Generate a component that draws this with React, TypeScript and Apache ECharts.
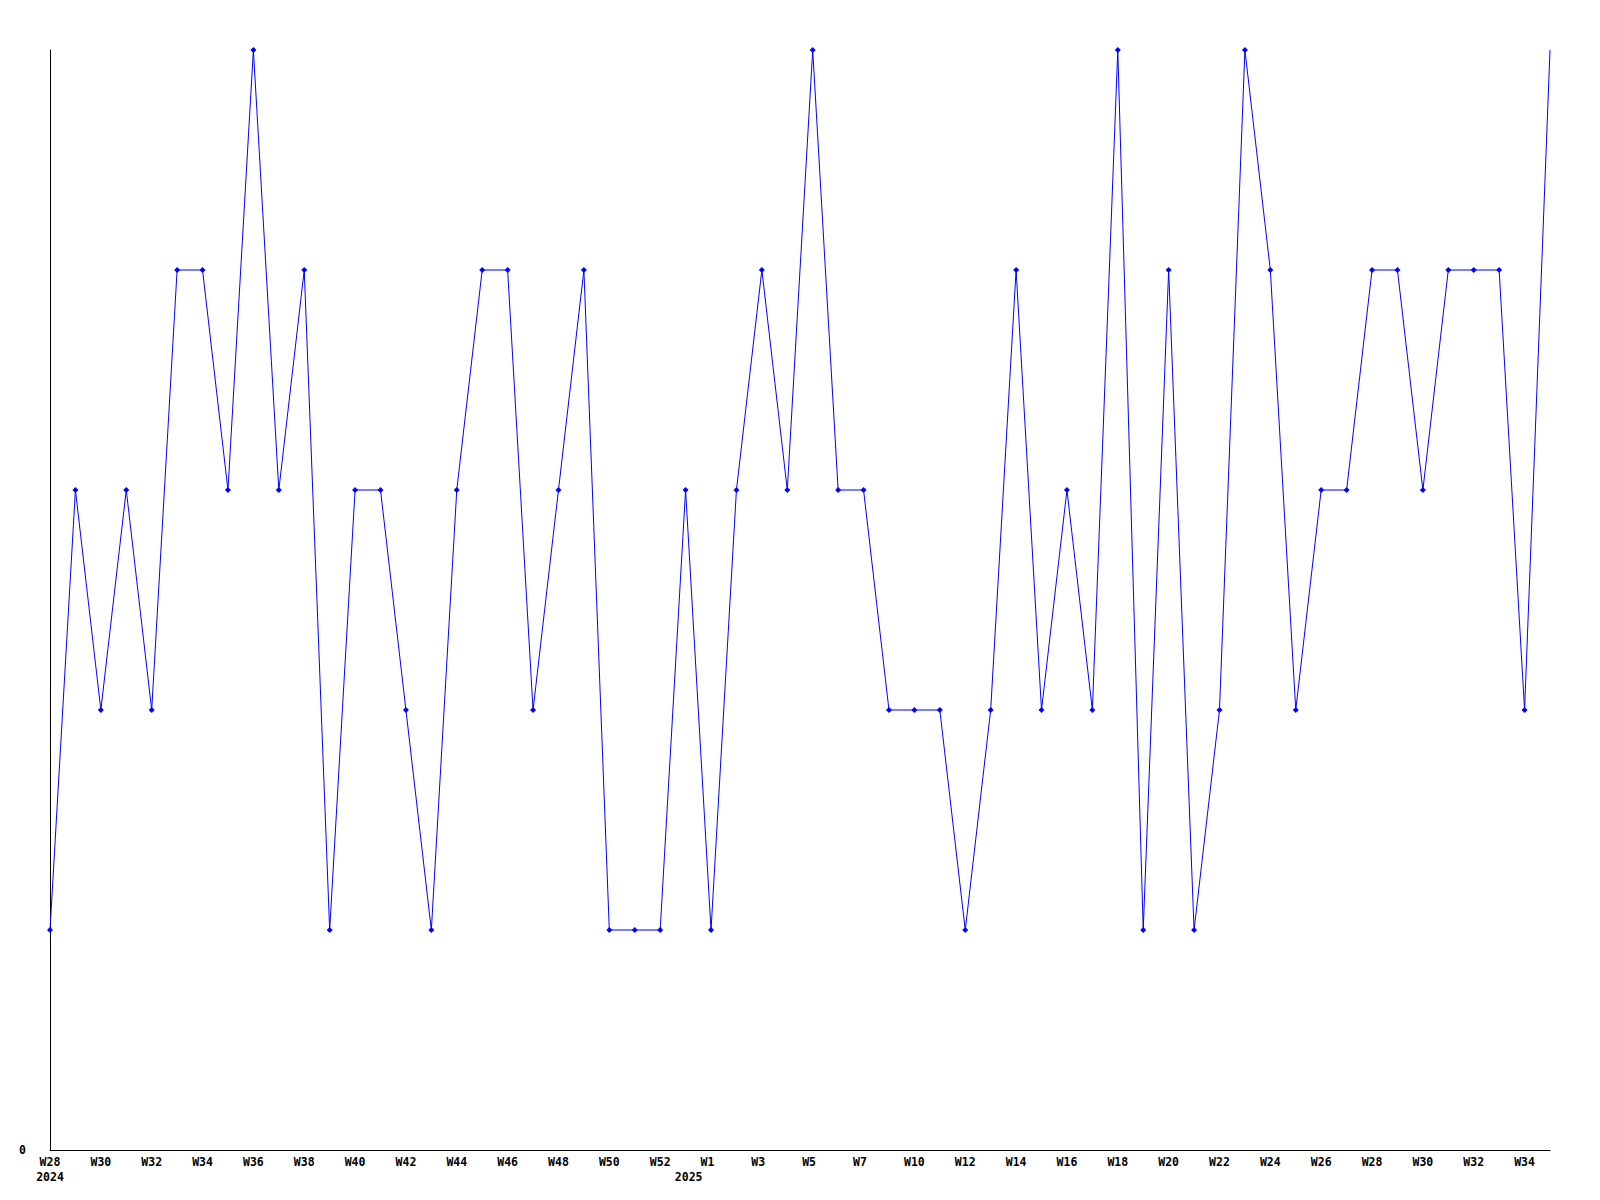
import React, { useEffect, useRef } from "react";
import * as echarts from "echarts";

// Weekly values, W28 2024 .. W35 2025 (60 weeks)
const weekValues = [
  1, 3, 2, 3, 2, 4, 4, 3, 5, 3,
  4, 1, 3, 3, 2, 1, 3, 4, 4, 2,
  3, 4, 1, 1, 1, 3, 1, 3, 4, 3,
  5, 3, 3, 2, 2, 2, 1, 2, 4, 2,
  3, 2, 5, 1, 4, 1, 2, 5, 4, 2,
  3, 3, 4, 4, 3, 4, 4, 4, 2, 5,
];

// Tick positions (in weeks from W28 2024) and their labels
const tickPositions = [
  0, 2, 4, 6, 8, 10, 12, 14, 16, 18, 20, 22, 24,
  25.12, 25.857, 27.857, 29.857, 31.857, 34, 36, 38, 40, 42, 44, 46, 48, 50, 52, 54, 56, 58,
];
const tickLabels = [
  "W28\n2024", "W30", "W32", "W34", "W36", "W38", "W40", "W42", "W44", "W46", "W48", "W50", "W52",
  "\n2025", "W1", "W3", "W5", "W7", "W10", "W12", "W14", "W16", "W18", "W20", "W22", "W24", "W26", "W28", "W30", "W32", "W34",
];

const FONT = "'DejaVu Sans Mono', 'Liberation Mono', monospace";

export default function App() {
  const ref = useRef<HTMLDivElement>(null);
  useEffect(() => {
    if (!ref.current) return;
    const chart = echarts.init(ref.current, undefined, { renderer: "svg" });
    const data = weekValues.map((v, i) =>
      i === weekValues.length - 1
        ? { value: [i, v], symbol: "none" }
        : { value: [i, v] }
    );
    chart.setOption({
      animation: false,
      backgroundColor: "#ffffff",
      grid: { left: 50, right: 50, top: 50, bottom: 50, containLabel: false },
      xAxis: {
        type: "value",
        min: 0,
        max: weekValues.length - 1,
        splitLine: { show: false },
        axisTick: { show: false },
        axisLine: { show: true, onZero: false, lineStyle: { color: "#000", width: 1 } },
        axisLabel: {
          customValues: tickPositions,
          showMinLabel: true,
          showMaxLabel: true,
          hideOverlap: false,
          margin: 4,
          color: "#000",
          fontFamily: FONT,
          fontWeight: "bold",
          fontSize: 11.5,
          lineHeight: 15,
          formatter: (val: number) => {
            const idx = tickPositions.findIndex((p) => Math.abs(p - val) < 1e-6);
            return idx >= 0 ? tickLabels[idx] : "";
          },
        },
      },
      yAxis: {
        type: "value",
        min: 0,
        max: 5,
        interval: 5,
        splitLine: { show: false },
        axisTick: { show: false },
        axisLine: { show: true, lineStyle: { color: "#000", width: 1 } },
        axisLabel: {
          margin: 24,
          color: "#000",
          fontFamily: FONT,
          fontWeight: "bold",
          fontSize: 11.5,
          formatter: (val: number) => (val === 0 ? "0" : ""),
        },
      },
      series: [
        {
          type: "line",
          data,
          symbol: "diamond",
          symbolSize: 6,
          showAllSymbol: true,
          clip: false,
          lineStyle: { color: "#0000ff", width: 1 },
          itemStyle: { color: "#0000ff", borderWidth: 0 },
        },
      ],
    });
    return () => chart.dispose();
  }, []);
  return (
    <div
      ref={ref}
      style={{ position: "absolute", left: 0, top: 0, width: 1600, height: 1200 }}
    />
  );
}
